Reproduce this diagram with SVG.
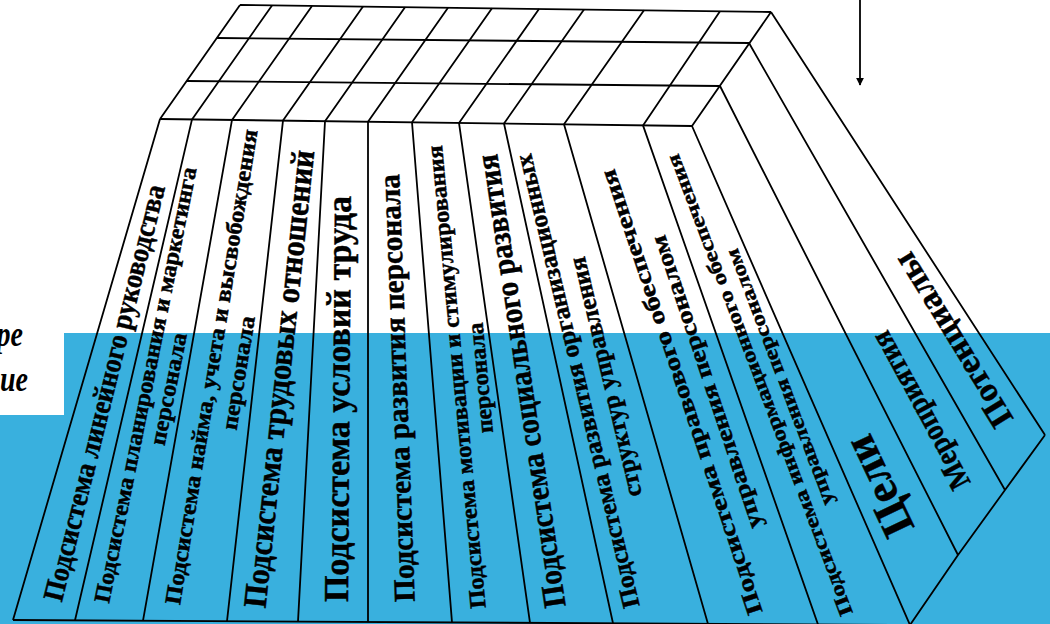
<svg xmlns="http://www.w3.org/2000/svg" width="1050" height="624" viewBox="0 0 1050 624">
<defs>
<style>
.ln{stroke:#000;stroke-width:1.8;fill:none;stroke-linejoin:round}
.t{font-family:"Liberation Serif","Times New Roman",serif;font-weight:bold;fill:#000;stroke:#000;stroke-width:0.45;text-anchor:middle}
.side{font-family:"Liberation Serif","Times New Roman",serif;font-weight:bold;font-style:italic;fill:#000;text-anchor:end}
</style>
<marker id="ah" viewBox="0 0 10 10" refX="9" refY="5" markerWidth="8" markerHeight="12" markerUnits="userSpaceOnUse" orient="auto">
<path d="M0,0 L10,5 L0,10 z" fill="#000"/>
</marker>
</defs>
<rect width="1050" height="624" fill="#fff"/>
<g id="background">
<polygon points="64,333 1050,333 1050,624 0,624 0,415 64,415" fill="#39b0de"/>
<text class="side" transform="translate(23,346) scale(1,1.3)" font-size="28">ре</text>
<text class="side" transform="translate(28,391) scale(1,1.3)" font-size="28">ие</text>
</g>
<g id="frame">
<path class="ln" d="M240,5 L771,12 M217,38 L749,43 M187,81 L720,86 M160,119 L692,126"/>
<path class="ln" d="M240,5 L160,119 M272,5.4 L192,119.4 M312,5.9 L232,119.9 M363,6.6 L283,120.6 M405,7.2 L325,121.2 M448,7.7 L368,121.7 M492,8.3 L412,122.3 M539,8.9 L459,122.9 M584,9.5 L504,123.5 M644,10.3 L564,124.3 M720,11.3 L643,125.4 M771,12 L692,126"/>
<path class="ln" d="M160,119 L13,620 M192,119.4 L75,620.3 M232,119.9 L143,620.7 M283,120.6 L227,621.2 M325,121.2 L298,621.6 M368,121.7 L368,622 M412,122.3 L452,622.4 M459,122.9 L530,622.9 M504,123.5 L613,623.3 M564,124.3 L708,623.9 M643,125.4 L818,624.5 M692,126 L910,625"/>
<path class="ln" d="M13,620 L910,625"/>
<path class="ln" d="M771,12 L1045,435 M749,43 L1005,490 M720,86 L958,555 M910,625 L958,555 L1005,490 L1045,435"/>
</g>
<g id="connectors">
<line class="ln" x1="860" y1="0" x2="860" y2="85" marker-end="url(#ah)"/>
</g>
<g id="col-1"><text class="t" font-size="29" dy="0.3em" textLength="428" lengthAdjust="spacingAndGlyphs" transform="translate(105,393) rotate(-76)">Подсистема линейного руководства</text></g>
<g id="col-2">
<text class="t" font-size="23" dy="0.3em" textLength="444" lengthAdjust="spacingAndGlyphs" transform="translate(146,385) rotate(-78.6)">Подсистема планирования и маркетинга</text>
<text class="t" font-size="23" dy="0.3em" textLength="114" lengthAdjust="spacingAndGlyphs" transform="translate(169,389) rotate(-78.6)">персонала</text>
</g>
<g id="col-3">
<text class="t" font-size="23" dy="0.3em" textLength="481" lengthAdjust="spacingAndGlyphs" transform="translate(212,367) rotate(-80.7)">Подсистема найма, учета и высвобождения</text>
<text class="t" font-size="23" dy="0.3em" textLength="115" lengthAdjust="spacingAndGlyphs" transform="translate(239,373) rotate(-80.7)">персонала</text>
</g>
<g id="col-4"><text class="t" font-size="33" dy="0.3em" textLength="460" lengthAdjust="spacingAndGlyphs" transform="translate(280,379) rotate(-83.9)">Подсистема трудовых отношений</text></g>
<g id="col-5"><text class="t" font-size="35" dy="0.3em" textLength="406" lengthAdjust="spacingAndGlyphs" transform="translate(339,399) rotate(-89.6)">Подсистема условий труда</text></g>
<g id="col-6"><text class="t" font-size="30" dy="0.3em" textLength="428" lengthAdjust="spacingAndGlyphs" transform="translate(398,388) rotate(-92.1)">Подсистема развития персонала</text></g>
<g id="col-7">
<text class="t" font-size="23" dy="0.3em" textLength="465" lengthAdjust="spacingAndGlyphs" transform="translate(457,377) rotate(-95.4)">Подсистема мотивации и стимулирования</text>
<text class="t" font-size="23" dy="0.3em" textLength="111" lengthAdjust="spacingAndGlyphs" transform="translate(481,378) rotate(-95.4)">персонала</text>
</g>
<g id="col-8"><text class="t" font-size="32" dy="0.3em" textLength="458" lengthAdjust="spacingAndGlyphs" transform="translate(522,381) rotate(-98.6)">Подсистема социального развития</text></g>
<g id="col-9">
<text class="t" font-size="25" dy="0.3em" textLength="466" lengthAdjust="spacingAndGlyphs" transform="translate(578,381) rotate(-103.5)">Подсистема развития организационных</text>
<text class="t" font-size="25" dy="0.3em" textLength="246" lengthAdjust="spacingAndGlyphs" transform="translate(606,377) rotate(-103.5)">структур управления</text>
</g>
<g id="col-10">
<text class="t" font-size="23" dy="0.3em" textLength="468" lengthAdjust="spacingAndGlyphs" transform="translate(682,392) rotate(-108.5)">Подсистема правового обеспечения</text>
<text class="t" font-size="23" dy="0.3em" textLength="308" lengthAdjust="spacingAndGlyphs" transform="translate(707,382) rotate(-108.5)">управления персоналом</text>
</g>
<g id="col-11">
<text class="t" font-size="20" dy="0.3em" textLength="492" lengthAdjust="spacingAndGlyphs" transform="translate(760,385) rotate(-110.8)">Подсистема информационного обеспечения</text>
<text class="t" font-size="20" dy="0.3em" textLength="273" lengthAdjust="spacingAndGlyphs" transform="translate(780,377) rotate(-110.8)">управления персоналом</text>
</g>
<g id="goals"><text class="t" font-size="46" dy="0.32em" textLength="106" lengthAdjust="spacingAndGlyphs" transform="translate(879,486) rotate(-115.5)">Цели</text></g>
<g id="measures"><text class="t" font-size="31" dy="0.3em" textLength="175" lengthAdjust="spacingAndGlyphs" transform="translate(921,410) rotate(-118.5)">Мероприятия</text></g>
<g id="potentials"><text class="t" font-size="34" dy="0.32em" textLength="198" lengthAdjust="spacingAndGlyphs" transform="translate(953,340) rotate(-121.5)">Потенциалы</text></g>
</svg>
